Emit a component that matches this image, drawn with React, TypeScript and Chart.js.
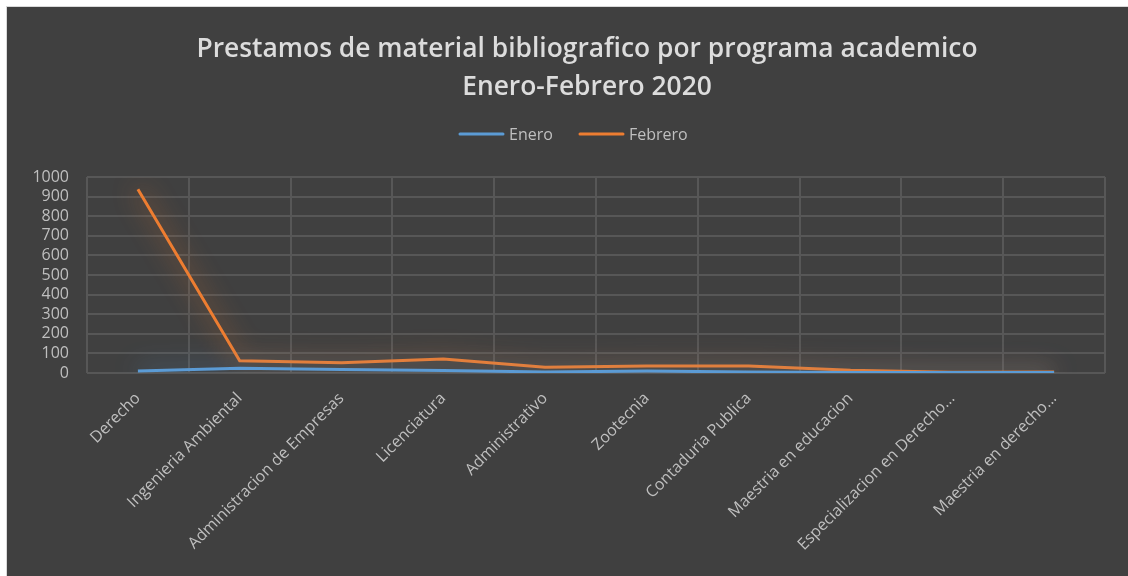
import React, { useEffect, useRef } from "react";
import { Chart, registerables } from "chart.js";

Chart.register(...registerables);

const categories = [
  "Derecho",
  "Ingenieria Ambiental",
  "Administracion de Empresas",
  "Licenciatura",
  "Administrativo",
  "Zootecnia",
  "Contaduria Publica",
  "Maestria en educacion",
  "Especializacion en Derecho...",
  "Maestria en derecho...",
];

const eneroValues = [10, 24, 18, 13, 5, 10, 5, 3, 2, 2];
const febreroValues = [937, 62, 52, 72, 29, 36, 36, 14, 4, 5];

const yTicks = [0, 100, 200, 300, 400, 500, 600, 700, 800, 900, 1000];

const titleLines = [
  "Prestamos de material bibliografico por programa academico",
  "Enero-Febrero 2020",
];

const glowPlugin = {
  id: "glow",
  beforeDatasetDraw(chart: any, args: any) {
    const ctx = chart.ctx;
    ctx.save();
    const ds = chart.data.datasets[args.index];
    ctx.shadowColor = ds.glowColor;
    ctx.shadowBlur = 24;
    ctx.shadowOffsetX = 0;
    ctx.shadowOffsetY = 0;
  },
  afterDatasetDraw(chart: any) {
    chart.ctx.restore();
  },
};

const headerPlugin = {
  id: "header",
  afterDraw(chart: any) {
    const ctx = chart.ctx;
    ctx.save();
    // title
    ctx.fillStyle = "#dcdcdc";
    ctx.textAlign = "center";
    ctx.textBaseline = "alphabetic";
    ctx.font = "600 26.4px 'Open Sans'";
    ctx.fillText(titleLines[0], 580, 50);
    ctx.fillText(titleLines[1], 580, 88);
    // legend
    ctx.textAlign = "left";
    ctx.font = "16px 'Open Sans'";
    ctx.lineWidth = 3;
    ctx.lineCap = "round";
    const items = chart.data.datasets.map((d: any, i: number) => ({
      label: d.label,
      color: d.borderColor,
      x: i === 0 ? 453 : 573,
    }));
    for (const it of items) {
      ctx.strokeStyle = it.color;
      ctx.beginPath();
      ctx.moveTo(it.x, 127);
      ctx.lineTo(it.x + 43, 127);
      ctx.stroke();
      ctx.fillStyle = "#bfbfbf";
      ctx.fillText(it.label, it.x + 49, 133);
    }
    ctx.restore();
  },
};

export default function App() {
  const ref = useRef<HTMLCanvasElement | null>(null);

  useEffect(() => {
    if (!ref.current) return;
    const chart = new Chart(ref.current, {
      type: "line",
      data: {
        labels: categories,
        datasets: [
          {
            label: "Enero",
            data: eneroValues,
            borderColor: "#5b9bd5",
            backgroundColor: "#5b9bd5",
            borderWidth: 3,
            pointRadius: 0,
            tension: 0,
            glowColor: "rgba(91,155,213,0.9)",
          } as any,
          {
            label: "Febrero",
            data: febreroValues,
            borderColor: "#ed7d31",
            backgroundColor: "#ed7d31",
            borderWidth: 3,
            pointRadius: 0,
            tension: 0,
            glowColor: "rgba(237,125,49,0.9)",
          } as any,
        ],
      },
      plugins: [glowPlugin, headerPlugin],
      options: {
        animation: false,
        responsive: false,
        maintainAspectRatio: false,
        layout: { padding: { left: 10, right: 23, top: 170, bottom: 0 } },
        plugins: {
          title: { display: false },
          legend: { display: false },
          tooltip: { enabled: false },
        },
        scales: {
          x: {
            offset: true,
            grid: { offset: true, color: "#575757", lineWidth: 2, drawTicks: false },
            border: { display: false },
            ticks: {
              color: "#bfbfbf",
              font: { family: "Open Sans", size: 16 },
              maxRotation: 45,
              minRotation: 45,
              padding: 16,
              autoSkip: false,
            },
            afterFit(scale: any) {
              scale.height = 203;
            },
          },
          y: {
            min: 0,
            max: 1000,
            afterBuildTicks(scale: any) {
              scale.ticks = yTicks.map((v) => ({ value: v }));
            },
            grid: { color: "#575757", lineWidth: 2, drawTicks: false },
            border: { display: false },
            ticks: {
              color: "#bfbfbf",
              font: { family: "Open Sans", size: 16 },
              padding: 18,
              autoSkip: false,
              callback: (v: any) => String(v),
            },
            afterFit(scale: any) {
              scale.width = 70;
            },
          },
        },
      },
    });
    return () => chart.destroy();
  }, []);

  return (
    <div
      style={{
        position: "absolute",
        left: 6,
        top: 6,
        width: 1122,
        height: 570,
        background: "#404040",
        borderLeft: "1px solid #d9d9d9",
        borderTop: "1px solid #d9d9d9",
        overflow: "hidden",
      }}
    >
      <canvas ref={ref} width={1121} height={569} style={{ display: "block" }} />
    </div>
  );
}
